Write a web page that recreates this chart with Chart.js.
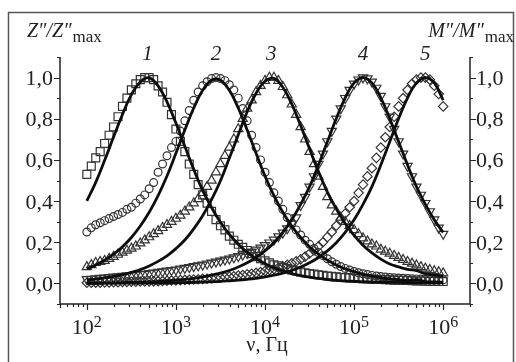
<!DOCTYPE html>
<html>
<head>
<meta charset="utf-8">
<script src="https://cdn.jsdelivr.net/npm/chart.js@4.4.1/dist/chart.umd.min.js"></script>
<style>
  html, body { margin: 0; padding: 0; background: #fff; }
</style>
</head>
<body>
<canvas id="chart" width="516" height="362"></canvas>
<script>
// log10 of frequency (Hz) for the measured points
const logNuPoints = [
  2.00, 2.05, 2.10, 2.15, 2.20, 2.25, 2.30, 2.35, 2.40, 2.45,
  2.50, 2.55, 2.60, 2.65, 2.70, 2.75, 2.80, 2.85, 2.90, 2.95,
  3.00, 3.05, 3.10, 3.15, 3.20, 3.25, 3.30, 3.35, 3.40, 3.45,
  3.50, 3.55, 3.60, 3.65, 3.70, 3.75, 3.80, 3.85, 3.90, 3.95,
  4.00, 4.05, 4.10, 4.15, 4.20, 4.25, 4.30, 4.35, 4.40, 4.45,
  4.50, 4.55, 4.60, 4.65, 4.70, 4.75, 4.80, 4.85, 4.90, 4.95,
  5.00, 5.05, 5.10, 5.15, 5.20, 5.25, 5.30, 5.35, 5.40, 5.45,
  5.50, 5.55, 5.60, 5.65, 5.70, 5.75, 5.80, 5.85, 5.90, 5.95,
  6.00
];

// log10 of frequency for the fitted curves
const logNuFit = [
  2.0, 2.1, 2.2, 2.3, 2.4, 2.5, 2.6, 2.7, 2.8, 2.9,
  3.0, 3.1, 3.2, 3.3, 3.4, 3.5, 3.6, 3.7, 3.8, 3.9,
  4.0, 4.1, 4.2, 4.3, 4.4, 4.5, 4.6, 4.7, 4.8, 4.9,
  5.0, 5.1, 5.2, 5.3, 5.4, 5.5, 5.6, 5.7, 5.8, 5.9,
  6.0
];

// measured, normalised
const points1 = [
  0.53, 0.57, 0.61, 0.64, 0.68, 0.72, 0.76, 0.81, 0.86, 0.90,
  0.94, 0.97, 0.99, 1.00, 1.00, 0.99, 0.96, 0.93, 0.88, 0.82,
  0.75, 0.69, 0.64, 0.58, 0.53, 0.48, 0.43, 0.39, 0.35, 0.31,
  0.28, 0.26, 0.23, 0.21, 0.19, 0.175, 0.16, 0.145, 0.13, 0.12,
  0.11, 0.10, 0.09, 0.085, 0.078, 0.072, 0.066, 0.061, 0.056, 0.052,
  0.048, 0.045, 0.042, 0.039, 0.036, 0.034, 0.032, 0.030, 0.028, 0.027,
  0.025, 0.024, 0.023, 0.022, 0.021, 0.020, 0.019, 0.018, 0.017, 0.016,
  0.015, 0.015, 0.014, 0.013, 0.012, 0.012, 0.011, 0.010, 0.010, 0.009,
  0.009
];
const points2 = [
  0.25, 0.27, 0.285, 0.295, 0.305, 0.315, 0.325, 0.335, 0.345, 0.36,
  0.37, 0.39, 0.41, 0.43, 0.46, 0.49, 0.54, 0.58, 0.62, 0.66,
  0.69, 0.74, 0.79, 0.84, 0.89, 0.93, 0.96, 0.98, 0.995, 1.00,
  0.995, 0.985, 0.965, 0.94, 0.90, 0.85, 0.79, 0.72, 0.66, 0.60,
  0.54, 0.49, 0.44, 0.40, 0.36, 0.32, 0.29, 0.26, 0.235, 0.21,
  0.19, 0.17, 0.15, 0.135, 0.12, 0.105, 0.093, 0.082, 0.073, 0.065,
  0.058, 0.052, 0.047, 0.043, 0.039, 0.036, 0.033, 0.031, 0.029, 0.027,
  0.026, 0.025, 0.024, 0.023, 0.022, 0.021, 0.020, 0.019, 0.018, 0.018,
  0.017
];
const points3 = [
  0.08, 0.09, 0.10, 0.105, 0.11, 0.12, 0.13, 0.14, 0.15, 0.16,
  0.17, 0.18, 0.195, 0.21, 0.225, 0.24, 0.255, 0.27, 0.285, 0.30,
  0.315, 0.33, 0.35, 0.37, 0.39, 0.41, 0.44, 0.47, 0.50, 0.54,
  0.58, 0.62, 0.66, 0.70, 0.75, 0.80, 0.85, 0.89, 0.93, 0.96,
  0.985, 1.00, 1.00, 0.985, 0.955, 0.915, 0.87, 0.82, 0.76, 0.70,
  0.64, 0.58, 0.52, 0.47, 0.42, 0.38, 0.35, 0.32, 0.30, 0.28,
  0.26, 0.24, 0.22, 0.205, 0.19, 0.18, 0.165, 0.155, 0.145, 0.135,
  0.125, 0.115, 0.105, 0.097, 0.088, 0.080, 0.073, 0.066, 0.060, 0.055,
  0.050
];
const points4 = [
  0.020, 0.022, 0.024, 0.026, 0.028, 0.030, 0.032, 0.034, 0.036, 0.038,
  0.040, 0.042, 0.044, 0.046, 0.049, 0.052, 0.055, 0.058, 0.061, 0.064,
  0.067, 0.071, 0.075, 0.079, 0.083, 0.087, 0.091, 0.096, 0.100, 0.105,
  0.110, 0.115, 0.120, 0.126, 0.132, 0.139, 0.146, 0.154, 0.163, 0.173,
  0.185, 0.198, 0.212, 0.228, 0.246, 0.267, 0.29, 0.32, 0.38, 0.42,
  0.47, 0.52, 0.58, 0.63, 0.69, 0.74, 0.80, 0.85, 0.90, 0.94,
  0.97, 0.99, 1.00, 0.995, 0.98, 0.95, 0.91, 0.86, 0.81, 0.75,
  0.69, 0.63, 0.57, 0.52, 0.47, 0.43, 0.39, 0.35, 0.31, 0.27,
  0.24
];
const points5 = [
  0.003, 0.003, 0.004, 0.004, 0.005, 0.005, 0.006, 0.006, 0.007, 0.007,
  0.008, 0.008, 0.009, 0.009, 0.010, 0.010, 0.011, 0.012, 0.013, 0.014,
  0.015, 0.016, 0.017, 0.018, 0.019, 0.020, 0.022, 0.023, 0.025, 0.027,
  0.029, 0.031, 0.033, 0.035, 0.038, 0.041, 0.044, 0.047, 0.051, 0.055,
  0.060, 0.065, 0.070, 0.076, 0.083, 0.090, 0.098, 0.107, 0.117, 0.130,
  0.145, 0.16, 0.18, 0.20, 0.225, 0.25, 0.28, 0.31, 0.34, 0.37,
  0.40, 0.44, 0.48, 0.52, 0.56, 0.61, 0.66, 0.71, 0.76, 0.81,
  0.86, 0.90, 0.94, 0.97, 0.99, 1.00, 1.00, 0.99, 0.96, 0.92,
  0.86
];

// fitted curves
const fit1 = [
  0.401, 0.491, 0.598, 0.711, 0.821, 0.917, 0.979, 0.999, 0.960, 0.882,
  0.779, 0.666, 0.554, 0.452, 0.369, 0.297, 0.238, 0.190, 0.151, 0.121,
  0.096, 0.076, 0.061, 0.048, 0.038, 0.030, 0.024, 0.019, 0.015, 0.012,
  0.010, 0.008, 0.007, 0.006, 0.005, 0.005, 0.004, 0.004, 0.004, 0.003,
  0.003
];
const fit2 = [
  0.071, 0.090, 0.113, 0.142, 0.178, 0.223, 0.279, 0.346, 0.427, 0.522,
  0.632, 0.745, 0.852, 0.938, 0.987, 0.987, 0.938, 0.852, 0.745, 0.632,
  0.522, 0.427, 0.346, 0.279, 0.223, 0.178, 0.142, 0.113, 0.090, 0.071,
  0.057, 0.045, 0.036, 0.028, 0.022, 0.018, 0.014, 0.018, 0.009, 0.007,
  0.006
];
const fit3 = [
  0.017, 0.021, 0.027, 0.034, 0.042, 0.054, 0.067, 0.085, 0.107, 0.134,
  0.169, 0.211, 0.265, 0.329, 0.407, 0.499, 0.609, 0.722, 0.834, 0.924,
  0.982, 0.996, 0.953, 0.872, 0.767, 0.654, 0.543, 0.444, 0.362, 0.291,
  0.233, 0.186, 0.148, 0.118, 0.094, 0.080, 0.068, 0.062, 0.047, 0.040,
  0.035
];
const fit4 = [
  0.002, 0.002, 0.003, 0.003, 0.004, 0.005, 0.006, 0.008, 0.010, 0.013,
  0.016, 0.020, 0.025, 0.032, 0.040, 0.050, 0.063, 0.080, 0.100, 0.126,
  0.158, 0.198, 0.248, 0.309, 0.384, 0.470, 0.575, 0.688, 0.801, 0.902,
  0.974, 1.000, 0.974, 0.902, 0.801, 0.688, 0.575, 0.470, 0.384, 0.309,
  0.248
];
const fit5 = [
  0.000, 0.000, 0.001, 0.001, 0.001, 0.001, 0.001, 0.002, 0.002, 0.002,
  0.003, 0.004, 0.005, 0.006, 0.008, 0.010, 0.013, 0.016, 0.020, 0.025,
  0.032, 0.040, 0.050, 0.063, 0.080, 0.100, 0.126, 0.158, 0.198, 0.248,
  0.309, 0.384, 0.470, 0.575, 0.688, 0.801, 0.902, 0.974, 1.000, 0.974,
  0.89
];

const curveLabels = ['1', '2', '3', '4', '5'];
const peakLogNu = [2.68, 3.45, 4.07, 5.10, 5.80];
const yTickValues = [0.0, 0.2, 0.4, 0.6, 0.8, 1.0];
const xDecades = [2, 3, 4, 5, 6];

const SERIF = '"Liberation Serif", "Times New Roman", serif';
const INK = '#222';

function toXY(logs, vals) {
  return vals.map((v, i) => ({ x: Math.pow(10, logs[i]), y: v }));
}

const pointSets = [points1, points2, points3, points4, points5];
const fitSets = [fit1, fit2, fit3, fit4, fit5];
const markerStyle = [
  { pointStyle: 'rect', rotation: 0, radius: 5.6 },
  { pointStyle: 'circle', rotation: 0, radius: 3.9 },
  { pointStyle: 'triangle', rotation: 0, radius: 5.3 },
  { pointStyle: 'triangle', rotation: 180, radius: 5.3 },
  { pointStyle: 'rectRot', rotation: 0, radius: 4.7 }
];

const datasets = [];
// fitted lines first so they are painted on top of the markers
fitSets.forEach((vals, i) => {
  datasets.push({
    label: 'fit ' + curveLabels[i],
    data: toXY(logNuFit, vals),
    borderColor: '#0d0d0d',
    borderWidth: 2.8,
    pointRadius: 0,
    tension: 0.4,
    fill: false
  });
});
pointSets.forEach((vals, i) => {
  datasets.push({
    label: curveLabels[i],
    data: toXY(logNuPoints, vals),
    showLine: false,
    pointStyle: markerStyle[i].pointStyle,
    rotation: markerStyle[i].rotation,
    pointRadius: markerStyle[i].radius,
    pointBorderColor: '#333',
    pointBorderWidth: 1.2,
    pointBackgroundColor: 'rgba(0,0,0,0)'
  });
});

// axes, ticks and all the text around the plot
const decorations = {
  id: 'decorations',
  beforeDraw(chart) {
    const ctx = chart.ctx;
    ctx.save();
    ctx.fillStyle = '#fff';
    ctx.fillRect(0, 0, chart.width, chart.height);
    ctx.restore();
  },
  afterDraw(chart) {
    const ctx = chart.ctx;
    const area = chart.chartArea;
    const xs = chart.scales.x;
    const ys = chart.scales.y;
    ctx.save();

    // outer frame
    ctx.strokeStyle = '#555';
    ctx.lineWidth = 1.5;
    ctx.strokeRect(8.5, 12.5, 505, 360);

    // axis lines
    ctx.strokeStyle = INK;
    ctx.lineWidth = 1.5;
    ctx.beginPath();
    ctx.moveTo(area.left, area.top);
    ctx.lineTo(area.left, area.bottom);
    ctx.lineTo(area.right, area.bottom);
    ctx.lineTo(area.right, area.top);
    ctx.stroke();

    // x ticks (major decades, minor 2..9)
    ctx.lineWidth = 1.2;
    ctx.beginPath();
    for (let e = 1; e <= 6; e++) {
      for (let m = 1; m <= 9; m++) {
        const v = m * Math.pow(10, e);
        if (v < xs.min || v > xs.max) continue;
        const px = Math.round(xs.getPixelForValue(v)) + 0.5;
        const len = m === 1 ? 6 : (m === 5 ? 4 : 3);
        ctx.moveTo(px, area.bottom);
        ctx.lineTo(px, area.bottom + len);
      }
    }
    // y ticks, both sides
    for (let k = -1; k <= 11; k++) {
      const py = Math.round(ys.getPixelForValue(k / 10)) + 0.5;
      const len = k % 2 === 0 ? 6 : 3;
      ctx.moveTo(area.left, py);
      ctx.lineTo(area.left - len, py);
      ctx.moveTo(area.right, py);
      ctx.lineTo(area.right + len, py);
    }
    ctx.stroke();

    ctx.fillStyle = INK;
    ctx.textBaseline = 'alphabetic';

    // y tick labels
    ctx.font = '22px ' + SERIF;
    yTickValues.forEach(v => {
      const py = ys.getPixelForValue(v) + 7.5;
      const txt = v.toFixed(1).replace('.', ',');
      ctx.textAlign = 'right';
      ctx.fillText(txt, area.left - 7, py);
      ctx.textAlign = 'left';
      ctx.fillText(txt, area.right + 6, py);
    });

    // x tick labels 10^n
    xDecades.forEach(n => {
      const px = xs.getPixelForValue(Math.pow(10, n));
      ctx.font = '22px ' + SERIF;
      const wBase = ctx.measureText('10').width;
      ctx.font = '16px ' + SERIF;
      const wExp = ctx.measureText(String(n)).width;
      const x0 = px - (wBase + wExp) / 2;
      ctx.textAlign = 'left';
      ctx.font = '22px ' + SERIF;
      ctx.fillText('10', x0, 334);
      ctx.font = '16px ' + SERIF;
      ctx.fillText(String(n), x0 + wBase, 327);
    });

    // axis titles
    ctx.textAlign = 'left';
    ctx.font = 'italic 20px ' + SERIF;
    const zTxt = 'Z\u2033/Z\u2033';
    ctx.fillText(zTxt, 27, 37);
    const zw = ctx.measureText(zTxt).width;
    ctx.font = '17px ' + SERIF;
    ctx.fillText('max', 27 + zw + 1, 42);

    ctx.font = 'italic 20px ' + SERIF;
    const mTxt = 'M\u2033/M\u2033';
    const mw = ctx.measureText(mTxt).width;
    ctx.font = '17px ' + SERIF;
    const maxw = ctx.measureText('max').width;
    const mx = 514 - mw - maxw - 1;
    ctx.font = 'italic 20px ' + SERIF;
    ctx.fillText(mTxt, mx, 37);
    ctx.font = '17px ' + SERIF;
    ctx.fillText('max', mx + mw + 1, 42);

    ctx.textAlign = 'center';
    ctx.font = '20px ' + SERIF;
    ctx.fillText('\u03BD, \u0413\u0446', 267, 351);

    // curve numbers over the peaks
    ctx.font = 'italic 21px ' + SERIF;
    curveLabels.forEach((lab, i) => {
      const px = xs.getPixelForValue(Math.pow(10, peakLogNu[i]));
      ctx.fillText(lab, px, 60);
    });

    ctx.restore();
  }
};

new Chart(document.getElementById('chart'), {
  type: 'line',
  data: { datasets: datasets },
  options: {
    responsive: false,
    animation: false,
    events: [],
    layout: { padding: { top: 57, left: 0, right: 0, bottom: 0 } },
    plugins: {
      legend: { display: false },
      tooltip: { enabled: false }
    },
    scales: {
      x: {
        type: 'logarithmic',
        min: 50,
        max: 2e6,
        ticks: { display: false },
        grid: { display: false, drawTicks: false },
        border: { display: false },
        afterFit(s) { s.height = 58; }
      },
      y: {
        position: 'left',
        min: -0.1,
        max: 1.1,
        ticks: { display: false },
        grid: { display: false, drawTicks: false },
        border: { display: false },
        afterFit(s) { s.width = 60; }
      },
      y2: {
        position: 'right',
        min: -0.1,
        max: 1.1,
        ticks: { display: false },
        grid: { display: false, drawTicks: false },
        border: { display: false },
        afterFit(s) { s.width = 46; }
      }
    }
  },
  plugins: [decorations]
});
</script>
</body>
</html>
